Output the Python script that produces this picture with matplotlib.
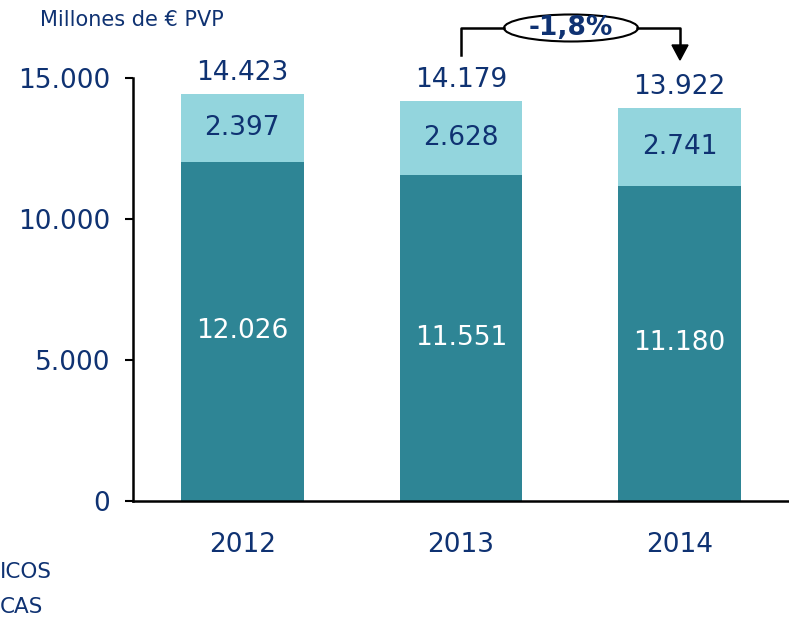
import numpy as np
import matplotlib.pyplot as plt
from matplotlib.patches import Ellipse

years = ['2012', '2013', '2014']
marcas = [12026, 11551, 11180]
genericos = [2397, 2628, 2741]
totales = [14423, 14179, 13922]
yticks = [0, 5000, 10000, 15000]
ytick_labels = ['0', '5.000', '10.000', '15.000']
variacion = '-1,8%'

navy = '#0F3272'
dark = '#2E8595'
light = '#93D5DD'

def fmt(v):
    return f'{v:,}'.replace(',', '.')

fig = plt.figure(figsize=(7.89, 6.18), dpi=100)
ax = fig.add_axes([133/789, 1 - 501/618, 1 - 133/789, (501 - 78)/618])

x = np.arange(len(years))
w = 0.56
ax.bar(x, marcas, w, color=dark, zorder=2)
ax.bar(x, genericos, w, bottom=marcas, color=light, zorder=2)

fs = 19
for i in range(len(years)):
    ax.text(x[i], marcas[i] / 2, fmt(marcas[i]), ha='center', va='center',
            color='white', fontsize=fs)
    ax.text(x[i], marcas[i] + genericos[i] / 2, fmt(genericos[i]),
            ha='center', va='center', color=navy, fontsize=fs)
    ax.annotate(fmt(totales[i]), (x[i], totales[i]), xytext=(0, 6),
                textcoords='offset points', ha='center', va='bottom',
                color=navy, fontsize=fs)

ax.set_xlim(-0.5, 2.5)
ax.set_ylim(0, 15000)
ax.set_yticks(yticks)
ax.set_yticklabels(ytick_labels)
ax.set_xticks(x)
ax.set_xticklabels(years)
ax.tick_params(axis='y', length=5.5, width=1.5, pad=11, labelsize=fs, labelcolor=navy)
ax.tick_params(axis='x', length=0, pad=22, labelsize=fs, labelcolor=navy)
for s in ['top', 'right']:
    ax.spines[s].set_visible(False)
for s in ['left', 'bottom']:
    ax.spines[s].set_linewidth(1.8)

# unit label
fig.text(40/789, 1 - 20/618, 'Millones de € PVP', color=navy, fontsize=15,
         ha='left', va='center')

# variation bracket (figure pixel coords)
def fx(px):
    return px / 789

def fy(py):
    return 1 - py / 618

lw = 1.8
fig.add_artist(plt.Line2D([fx(461), fx(461), fx(504)], [fy(55), fy(28), fy(28)],
                          color='black', lw=lw))
fig.add_artist(plt.Line2D([fx(637), fx(680), fx(680)], [fy(28), fy(28), fy(46)],
                          color='black', lw=lw))
fig.add_artist(plt.Polygon([[fx(672), fy(45)], [fx(688), fy(45)], [fx(680), fy(60)]],
                           closed=True, color='black'))
fig.add_artist(Ellipse((fx(571), fy(28)), 134/789, 27/618, facecolor='white',
                       edgecolor='black', lw=1.5))
fig.text(fx(571), fy(28), variacion, ha='center', va='center', color=navy,
         fontsize=19, fontweight='bold')

# legend fragments cut off at the left edge
fig.text(0, 1 - 572/618, 'ICOS', color=navy, fontsize=15.5, ha='left', va='center')
fig.text(0, 1 - 607/618, 'CAS', color=navy, fontsize=15.5, ha='left', va='center')

fig.savefig('out.png', dpi=100)
